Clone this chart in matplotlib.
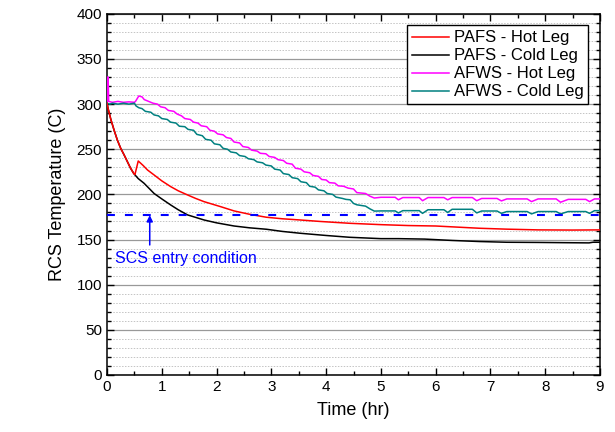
import matplotlib
matplotlib.use("Agg")
import matplotlib.pyplot as plt
from matplotlib.ticker import MultipleLocator

plt.rcParams['font.family'] = ['Liberation Sans', 'DejaVu Sans']

# PAFS hot leg
pafs_hot_t = [0, 0.02, 0.07, 0.13, 0.19, 0.25, 0.31, 0.37, 0.43, 0.49, 0.51, 0.57, 0.66, 0.74,
              0.86, 1.0, 1.16, 1.3, 1.47, 1.62, 1.77, 2.07, 2.32, 2.6, 2.91, 3.2, 3.52, 3.9,
              4.43, 5.0, 5.5, 6.0, 6.8, 7.3, 7.87, 8.5, 9.0]
pafs_hot_v = [301, 295, 283, 271, 260, 251, 244, 236.5, 229, 223, 222, 237, 232, 227,
              221.5, 215, 208.7, 204, 199.4, 195.5, 192, 186.5, 181.7, 178, 174.7, 173, 171.7, 170,
              168, 166.5, 165.5, 165, 162.5, 161.5, 160.7, 160.5, 160.7]

# PAFS cold leg
pafs_cold_t = [0, 0.02, 0.07, 0.13, 0.19, 0.25, 0.31, 0.37, 0.43, 0.49, 0.57, 0.675, 0.86, 1.0,
               1.16, 1.3, 1.47, 1.62, 1.77, 2.0, 2.32, 2.6, 2.91, 3.2, 3.52, 4.0, 4.43, 5.0,
               5.32, 5.8, 6.3, 6.8, 7.3, 7.87, 8.4, 8.8, 8.87, 9.0]
pafs_cold_v = [301, 295, 283, 271, 260, 251, 244, 236.5, 229, 223, 217.5, 212.4, 201, 195,
               188.4, 183, 177.3, 174.5, 171.7, 168.5, 165, 163, 161.4, 159, 157, 154.5, 152.5, 151,
               151, 150.5, 149, 147.8, 147, 146.8, 146.5, 146.3, 147, 147]

# AFWS hot leg
afws_hot_t = [0, 0.01, 0.02, 0.03, 0.1, 0.2, 0.3, 0.4, 0.5, 0.52, 0.58, 0.64, 0.68, 0.76,
              0.84, 0.92, 0.98, 1.06, 1.12, 1.22, 1.28, 1.36, 1.42, 1.52, 1.58, 1.66, 1.72,
              1.82, 1.88, 1.96, 2.02, 2.12, 2.18, 2.26, 2.32, 2.42, 2.48, 2.58, 2.64, 2.74,
              2.8, 2.9, 2.96, 3.06, 3.12, 3.22, 3.28, 3.38, 3.44, 3.54, 3.6, 3.7, 3.76, 3.86,
              3.92, 4.0, 4.06, 4.16, 4.22, 4.32, 4.4, 4.5, 4.56, 4.72, 4.8, 4.88,
              5.0, 5.26, 5.32, 5.4, 5.7, 5.76, 5.86, 6.15, 6.22, 6.3, 6.67, 6.75, 6.84,
              7.12, 7.2, 7.3, 7.67, 7.75, 7.87, 8.2, 8.28, 8.42, 8.74, 8.81, 8.9, 9.0]
afws_hot_v = [300, 330, 330, 303, 302, 303, 302, 302.5, 302, 303, 309, 308, 305, 303,
              301, 300, 297, 296, 293, 292, 289, 287, 284, 283, 280, 279, 276,
              275, 271, 270, 267, 266, 263, 262, 258, 257, 253, 252, 249, 248,
              245.5, 245, 242, 241, 238.5, 237.5, 234.5, 233.5, 229, 228, 225, 224, 221, 220,
              216.5, 216, 213, 212.5, 209.5, 209, 207, 206, 202, 201, 198, 196,
              196.8, 196.8, 194, 196.5, 196.5, 193, 196.5, 196.5, 194, 196.5, 196.5, 193, 195.5,
              195.5, 192.8, 195, 195, 192, 195, 195, 191.3, 194.5, 194.5, 192, 195, 195]

# AFWS cold leg
afws_cold_t = [0, 0.05, 0.1, 0.2, 0.3, 0.4, 0.5, 0.53, 0.58, 0.64, 0.7, 0.8, 0.86, 0.94,
               1.0, 1.1, 1.16, 1.26, 1.32, 1.42, 1.48, 1.58, 1.64, 1.74, 1.8, 1.9, 1.96, 2.06,
               2.12, 2.2, 2.26, 2.36, 2.42, 2.52, 2.58, 2.68, 2.74, 2.84, 2.9, 3.0, 3.06, 3.16,
               3.22, 3.32, 3.38, 3.48, 3.54, 3.64, 3.7, 3.8, 3.86, 3.96, 4.02, 4.12, 4.18, 4.3,
               4.36, 4.44, 4.5, 4.56, 4.72, 4.8, 4.88,
               5.0, 5.26, 5.32, 5.4, 5.7, 5.76, 5.86, 6.15, 6.22, 6.3, 6.67, 6.75, 6.84,
               7.12, 7.2, 7.3, 7.67, 7.75, 7.87, 8.2, 8.28, 8.42, 8.74, 8.81, 8.9, 9.0]
afws_cold_v = [301, 300, 301, 300, 301, 300, 301, 298, 296, 295, 292, 291, 288, 287,
               284, 283, 280, 279, 275.5, 275, 272, 271, 266.5, 265, 261, 260, 256, 255,
               251, 250, 247, 246, 243, 242, 239.5, 238.5, 236, 235, 232.5, 231.5, 228, 227,
               223, 222, 218.5, 217.5, 214, 213, 209, 208, 205, 204, 201, 200, 197, 195.5,
               194.5, 194, 190, 188.5, 187, 184, 181.5,
               181.7, 181.7, 179.5, 182, 182, 179, 183, 183, 180, 183.5, 183.5, 179.5, 181.6,
               181.6, 179, 181, 181, 178.4, 181, 181, 178.4, 181, 181, 179, 182, 182]

scs_entry = 177
arrow_x = 0.78
arrow_base = 144

fig = plt.figure(figsize=(6.15, 4.32), dpi=100)
ax = fig.add_axes([0.174, 0.132, 0.8016, 0.836])

ax.plot(pafs_hot_t, pafs_hot_v, color='#ff0000', lw=1.1, label='PAFS - Hot Leg', zorder=4)
ax.plot(pafs_cold_t, pafs_cold_v, color='black', lw=1.1, label='PAFS - Cold Leg', zorder=3)
ax.plot(afws_hot_t, afws_hot_v, color='#ff00ff', lw=1.1, label='AFWS - Hot Leg', zorder=3)
ax.plot(afws_cold_t, afws_cold_v, color='#008080', lw=1.1, label='AFWS - Cold Leg', zorder=3)

ax.axhline(scs_entry, color='#0000ff', lw=1.5, dashes=(3.8, 4.8), zorder=5)
ax.annotate('', xy=(arrow_x, scs_entry), xytext=(arrow_x, arrow_base),
            arrowprops=dict(arrowstyle='-|>', color='#0000ff', lw=1.1, mutation_scale=9,
                            shrinkA=0, shrinkB=0))
ax.text(0.15, 128.5, 'SCS entry condition', color='#0000ff', fontsize=11.5, va='center', ha='left')

ax.set_xlim(0, 9)
ax.set_ylim(0, 400)
ax.xaxis.set_major_locator(MultipleLocator(1))
ax.xaxis.set_minor_locator(MultipleLocator(0.5))
ax.yaxis.set_major_locator(MultipleLocator(50))
ax.yaxis.set_minor_locator(MultipleLocator(10))

ax.grid(True, which='major', axis='y', color='#999999', lw=0.9, ls='-')
ax.grid(True, which='minor', axis='y', color='#c4c4c4', lw=0.7, ls=(0, (1.5, 1.5)))
ax.set_axisbelow(True)

ax.tick_params(which='both', direction='in', top=True, right=True, labelsize=11, width=1.0)
ax.tick_params(which='major', length=5)
ax.tick_params(which='minor', length=3)
for s in ax.spines.values():
    s.set_linewidth(1.1)

ax.set_xlabel('Time (hr)', fontsize=13, labelpad=6)
ax.set_ylabel('RCS Temperature (C)', fontsize=13, labelpad=8)

leg = ax.legend(loc='upper right', fontsize=12, frameon=True, fancybox=False, framealpha=1,
                edgecolor='black', handlelength=2.2, handletextpad=0.3, labelspacing=0.18,
                borderpad=0.3, borderaxespad=0.7)
leg.get_frame().set_linewidth(1.0)

fig.savefig('out.png', dpi=100)
